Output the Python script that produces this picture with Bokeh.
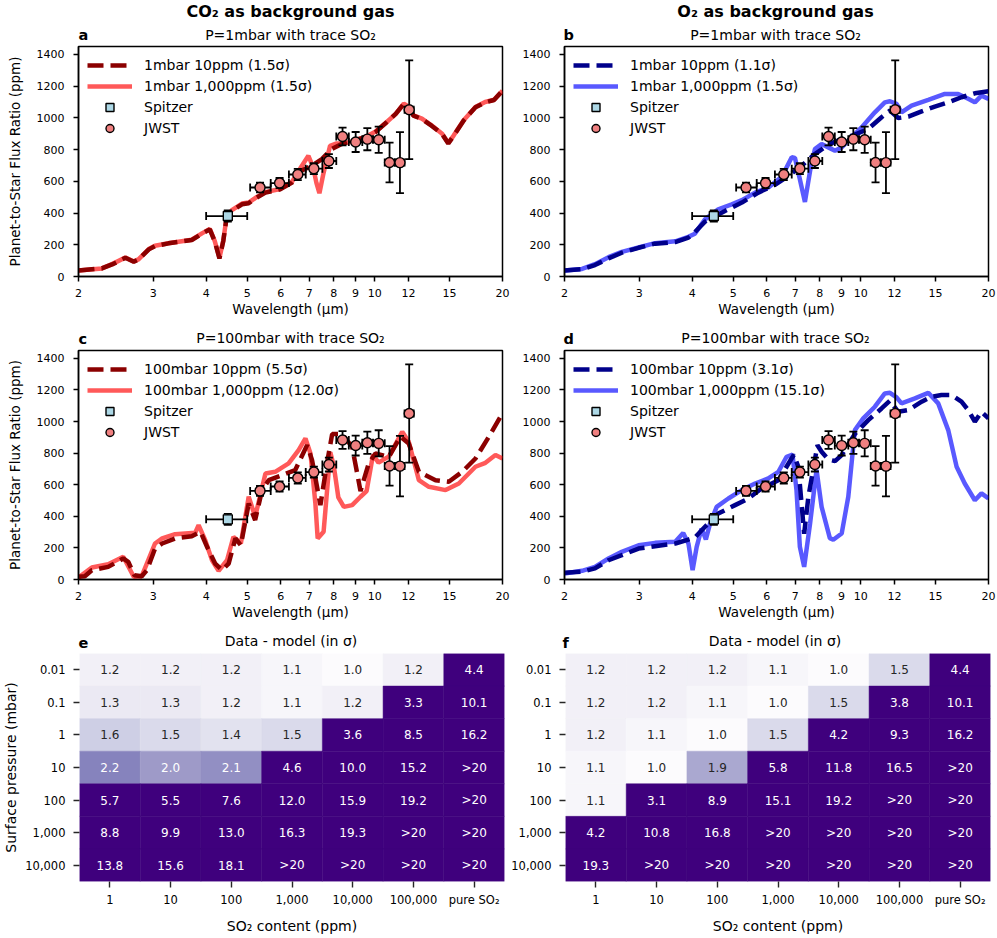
import numpy as np
from bokeh.core.properties import value
from bokeh.embed import file_html
from bokeh.layouts import column, row
from bokeh.models import (ColumnDataSource, CustomJSTickFormatter, FactorRange, FixedTicker,
                          Legend, LegendItem, LinearColorMapper, Range1d)
from bokeh.palettes import Purples9
from bokeh.plotting import figure
from bokeh.resources import INLINE

FONT = "DejaVu Sans"

# ---------------------------------------------------------------- axes
wl_ticks = [2, 3, 4, 5, 6, 7, 8, 9, 10, 12, 15, 20]
fp_ticks = [0, 200, 400, 600, 800, 1000, 1200, 1400]

# ---------------------------------------------------------------- observations
spitzer_wl = [4.5]
spitzer_fp = [381]
spitzer_err = [35]
spitzer_wl_lo = [4.0]
spitzer_wl_hi = [5.0]

jwst_wl = [5.36, 5.96, 6.58, 7.18, 7.79, 8.39, 9.01, 9.60, 10.21, 10.83, 11.46, 12.05]
jwst_fp = [561, 589, 643, 680, 728, 883, 848, 866, 862, 719, 718, 1051]
jwst_err = [31, 32, 35, 35, 44, 56, 63, 70, 83, 125, 192, 311]
jwst_wl_lo = [5.08, 5.68, 6.27, 6.87, 7.52, 8.11, 8.68, 9.34, 9.90, 10.55, 11.15, 11.75]
jwst_wl_hi = [5.68, 6.27, 6.87, 7.52, 8.11, 8.68, 9.34, 9.90, 10.55, 11.15, 11.75, 12.35]

# ---------------------------------------------------------------- models, CO2 background, 1 mbar
co2_1mbar_10ppm_wl = [2.0, 2.27, 2.40, 2.58, 2.70, 2.77, 2.93, 3.03, 3.26, 3.70, 3.91, 4.08, 4.19,
                      4.30, 4.39, 4.47, 4.60, 4.86, 5.04, 5.27, 5.52, 5.98, 6.38, 6.74, 7.1, 7.5,
                      7.9, 8.35, 8.83, 9.5, 10.02, 10.59, 11.2, 11.7, 12.0, 12.33, 12.91, 13.6,
                      14.41, 14.9, 15.35, 16.2, 17.27, 18.2, 19.1, 20.0]
co2_1mbar_10ppm_fp = [38, 51, 76, 118, 93, 107, 171, 192, 209, 230, 270, 297, 223,
                      114, 223, 371, 413, 455, 462, 498, 529, 550, 592, 670, 698, 740,
                      803, 835, 856, 877, 909, 966, 1025, 1088, 1071, 1014, 993, 951,
                      898, 839, 888, 983, 1067, 1098, 1113, 1172]
co2_1mbar_1000ppm_wl = [2.0, 2.27, 2.40, 2.58, 2.70, 2.77, 2.93, 3.03, 3.26, 3.70, 3.91, 4.08,
                        4.19, 4.30, 4.39, 4.47, 4.60, 4.86, 5.04, 5.27, 5.52, 5.98, 6.38, 6.7,
                        6.97, 7.15, 7.28, 7.40, 7.55, 7.84, 8.1, 8.4, 8.83, 9.2, 9.5, 10.02,
                        10.59, 11.2, 11.7, 12.0, 12.33, 12.91, 13.6, 14.41, 14.9, 15.35, 16.2,
                        17.27, 18.2, 19.1, 20.0]
co2_1mbar_1000ppm_fp = [38, 51, 78, 120, 95, 108, 173, 194, 210, 232, 272, 300,
                        225, 118, 225, 375, 418, 460, 466, 502, 532, 552, 598, 690,
                        761, 690, 590, 525, 640, 824, 838, 840, 850, 868, 880, 912,
                        966, 1025, 1090, 1072, 1016, 995, 953, 900, 842, 890, 985,
                        1068, 1100, 1114, 1170]

# ---------------------------------------------------------------- models, O2 background, 1 mbar
o2_1mbar_10ppm_wl = [2.0, 2.20, 2.36, 2.54, 2.73, 2.99, 3.27, 3.65, 3.92, 4.06, 4.29, 4.49, 4.78,
                     5.24, 5.73, 6.27, 6.75, 7.25, 7.79, 8.38, 9.01, 9.68, 10.41, 11.19, 11.71,
                     12.25, 12.94, 13.91, 14.94, 16.07, 17.27, 18.57, 20.0]
o2_1mbar_10ppm_fp = [38, 46, 72, 114, 150, 181, 207, 217, 245, 280, 346, 375, 413,
                     466, 529, 578, 635, 698, 772, 831, 867, 894, 930, 1004, 1046,
                     999, 1008, 1041, 1071, 1098, 1130, 1155, 1168]
o2_1mbar_1000ppm_wl = [2.0, 2.20, 2.36, 2.54, 2.73, 2.99, 3.27, 3.65, 3.92, 4.06, 4.29, 4.61,
                       4.96, 5.24, 5.63, 6.05, 6.51, 6.87, 6.99, 7.18, 7.38, 7.59, 7.79, 8.08,
                       8.38, 8.69, 9.01, 9.51, 10.04, 10.79, 11.39, 11.71, 12.14, 12.47, 13.17,
                       14.42, 15.78, 16.96, 17.91, 18.57, 19.25, 20.0]
o2_1mbar_1000ppm_fp = [38, 48, 78, 122, 155, 183, 210, 222, 250, 270, 360, 424,
                       455, 481, 529, 561, 628, 752, 748, 613, 470, 666, 803, 835,
                       814, 793, 814, 877, 940, 1035, 1098, 1105, 1088, 1035, 1077,
                       1113, 1151, 1151, 1120, 1098, 1140, 1120]

# ---------------------------------------------------------------- models, CO2 background, 100 mbar
co2_100mbar_10ppm_wl = [2.0, 2.07, 2.15, 2.35, 2.55, 2.62, 2.71, 2.82, 2.90, 3.03, 3.15, 3.38,
                        3.70, 3.88, 4.02, 4.20, 4.36, 4.52, 4.69, 4.83, 5.04, 5.22, 5.42, 5.62,
                        6.04, 6.49, 6.92, 7.11, 7.44, 7.71, 7.93, 8.37, 8.84, 9.25, 9.67, 10.03,
                        10.79, 11.49, 12.02, 12.70, 13.90, 14.94, 16.07, 17.27, 18.57, 20.0]
co2_100mbar_10ppm_fp = [17, 21, 59, 80, 133, 112, 27, 21, 59, 196, 228, 260,
                        274, 302, 207, 101, 59, 101, 260, 217, 481, 376, 566, 629,
                        661, 693, 851, 756, 471, 735, 921, 921, 840, 560, 735, 798,
                        777, 904, 861, 682, 629, 619, 682, 766, 904, 1052]
co2_100mbar_1000ppm_wl = [2.0, 2.15, 2.35, 2.55, 2.70, 2.82, 3.03, 3.15, 3.38, 3.77, 3.84, 3.98,
                          4.13, 4.28, 4.48, 4.64, 4.83, 5.04, 5.22, 5.52, 5.82, 6.26, 6.61,
                          6.86, 7.05, 7.24, 7.33, 7.57, 7.85, 8.0, 8.2, 8.45, 8.84, 9.25, 9.56,
                          9.9, 10.2, 10.8, 11.6, 12.02, 12.70, 13.41, 14.68, 15.78, 17.27,
                          18.23, 19.25, 20.0]
co2_100mbar_1000ppm_fp = [13, 76, 97, 144, 17, 21, 228, 260, 287, 296, 344, 249,
                          122, 55, 122, 270, 228, 524, 397, 671, 682, 735, 819,
                          893, 798, 481, 260, 302, 805, 720, 520, 460, 471, 524, 560,
                          790, 740, 780, 935, 872, 629, 587, 566, 608, 714,
                          739, 788, 766]

# ---------------------------------------------------------------- models, O2 background, 100 mbar
o2_100mbar_10ppm_wl = [2.0, 2.20, 2.36, 2.54, 2.73, 2.99, 3.27, 3.65, 3.92, 4.06, 4.29, 4.61,
                       5.05, 5.43, 5.83, 6.39, 6.95, 7.12, 7.35, 7.52, 7.90, 8.08, 8.38, 8.69,
                       9.01, 9.68, 10.41, 11.19, 11.71, 12.25, 12.94, 13.91, 14.67, 15.49,
                       16.37, 17.27, 17.91, 18.57, 19.25, 20.0]
o2_100mbar_10ppm_fp = [42, 49, 70, 122, 154, 196, 211, 228, 253, 266, 334, 418,
                       471, 513, 576, 629, 790, 714, 290, 524, 850, 809, 760, 750,
                       788, 921, 1009, 1083, 1132, 1062, 1073, 1126, 1157, 1168,
                       1168, 1126, 1073, 999, 1062, 1020]
o2_100mbar_1000ppm_wl = [2.0, 2.20, 2.36, 2.54, 2.73, 2.99, 3.27, 3.65, 3.81, 3.92, 4.01, 4.10,
                         4.21, 4.31, 4.41, 4.57, 4.87, 5.24, 5.63, 6.05, 6.39, 6.68, 6.90,
                         7.05, 7.18, 7.35, 7.59, 7.86, 8.08, 8.45, 8.61, 9.01, 9.34, 9.68,
                         10.13, 10.79, 11.39, 11.71, 12.14, 12.47, 13.41, 14.42, 15.22, 16.07,
                         16.82, 17.58, 18.57, 19.25, 20.0]
o2_100mbar_1000ppm_fp = [38, 55, 80, 133, 175, 217, 232, 239, 295, 228, 59, 207,
                         323, 253, 355, 460, 513, 566, 608, 640, 682, 777, 790,
                         566, 207, 80, 355, 695, 460, 262, 252, 291, 524, 946,
                         1020, 1094, 1178, 1182, 1153, 1115, 1147, 1182, 1115, 946,
                         714, 608, 502, 545, 513]

# ---------------------------------------------------------------- goodness-of-fit grids
so2_labels = ["1", "10", "100", "1,000", "10,000", "100,000", "pure SO\u2082"]
pressure_labels = ["0.01", "0.1", "1", "10", "100", "1,000", "10,000"]

co2_sigma = [
    ["1.2", "1.2", "1.2", "1.1", "1.0", "1.2", "4.4"],
    ["1.3", "1.3", "1.2", "1.1", "1.2", "3.3", "10.1"],
    ["1.6", "1.5", "1.4", "1.5", "3.6", "8.5", "16.2"],
    ["2.2", "2.0", "2.1", "4.6", "10.0", "15.2", ">20"],
    ["5.7", "5.5", "7.6", "12.0", "15.9", "19.2", ">20"],
    ["8.8", "9.9", "13.0", "16.3", "19.3", ">20", ">20"],
    ["13.8", "15.6", "18.1", ">20", ">20", ">20", ">20"],
]
o2_sigma = [
    ["1.2", "1.2", "1.2", "1.1", "1.0", "1.5", "4.4"],
    ["1.2", "1.2", "1.1", "1.0", "1.5", "3.8", "10.1"],
    ["1.2", "1.1", "1.0", "1.5", "4.2", "9.3", "16.2"],
    ["1.1", "1.0", "1.9", "5.8", "11.8", "16.5", ">20"],
    ["1.1", "3.1", "8.9", "15.1", "19.2", ">20", ">20"],
    ["4.2", "10.8", "16.8", ">20", ">20", ">20", ">20"],
    ["19.3", ">20", ">20", ">20", ">20", ">20", ">20"],
]

# ---------------------------------------------------------------- layout constants (pixels)
PAGE_W = 997
FRAME_W = 424
HM_FRAME_W = 425
LEFT_A, RIGHT_A = 78, 17          # left column spectra
LEFT_B, RIGHT_B = 44, 10          # right column spectra
LEFT_E, RIGHT_E = 78, 4           # left heatmap
LEFT_F, RIGHT_F = 55, 10          # right heatmap
X_COL1 = LEFT_A                               # frame left, left column
X_COL2 = LEFT_A + FRAME_W + RIGHT_A + LEFT_B  # frame left, right column
X_HM2 = LEFT_E + HM_FRAME_W + RIGHT_E + LEFT_F


def interp_palette_hex(colors, n):
    rgb = np.array([[int(c[i:i + 2], 16) for i in (1, 3, 5)] for c in colors], float)
    t = np.linspace(0, 1, len(colors))
    tt = np.linspace(0, 1, n)
    out = np.stack([np.interp(tt, t, rgb[:, k]) for k in range(3)], axis=1)
    return ["#%02x%02x%02x" % tuple(int(round(v)) for v in c) for c in out]


PURPLES = interp_palette_hex(list(reversed(Purples9)), 256)


def style_text_axes(p, tick_size="11px"):
    for ax in (p.xaxis[0], p.yaxis[0]):
        ax.major_label_text_font = FONT
        ax.major_label_text_font_size = tick_size
        ax.major_label_text_color = "black"
        ax.axis_label_text_font = FONT
        ax.axis_label_text_font_size = "13.5px"
        ax.axis_label_text_font_style = "normal"
        ax.axis_label_text_color = "black"


def caption_strip(height, headers=(), subtitles=(), letters=()):
    """A full-width band of column headers, panel subtitles and panel letters."""
    s = figure(width=PAGE_W, height=height, x_range=Range1d(0, PAGE_W),
               y_range=Range1d(height, 0), x_axis_location=None, y_axis_location=None,
               toolbar_location=None, output_backend="svg", min_border=0)
    s.outline_line_color = None
    s.grid.visible = False
    s.xgrid.grid_line_color = None
    s.ygrid.grid_line_color = None
    s.background_fill_color = "white"
    s.border_fill_color = "white"
    groups = ((headers, "16px", "bold", "center"),
              (subtitles, "14px", "normal", "center"),
              (letters, "14.5px", "bold", "left"))
    for items, size, style, align in groups:
        if not items:
            continue
        xs, ys, ts = zip(*items)
        s.text(x=list(xs), y=list(ys), text=list(ts), text_font=value(FONT),
               text_font_size=size, text_font_style=style, text_align=align,
               text_baseline="middle", text_color="black")
    return s


def add_points(p, wl, fp, err, lo, hi, marker, fill, size):
    src = ColumnDataSource(dict(x=wl, y=fp, x0=lo, x1=hi,
                                y0=[f - e for f, e in zip(fp, err)],
                                y1=[f + e for f, e in zip(fp, err)]))
    bar = dict(line_color="black", line_width=1.8, source=src)
    p.segment(x0="x", y0="y0", x1="x", y1="y1", **bar)
    p.segment(x0="x0", y0="y", x1="x1", y1="y", **bar)
    p.scatter(x="x", y="y0", marker="dash", size=8, **bar)
    p.scatter(x="x", y="y1", marker="dash", size=8, **bar)
    p.scatter(x="x0", y="y", marker="dash", angle=np.pi / 2, size=8, **bar)
    p.scatter(x="x1", y="y", marker="dash", angle=np.pi / 2, size=8, **bar)
    return p.scatter(x="x", y="y", marker=marker, size=size, fill_color=fill,
                     line_color="black", line_width=1.4, source=src)


def spectrum_panel(dash_wl, dash_fp, solid_wl, solid_fp, dash_label, solid_label,
                   dash_color, solid_color, y_label, b_left, b_right, b_bottom, frame_h):
    p = figure(frame_width=FRAME_W, frame_height=frame_h, x_axis_type="log",
               x_range=Range1d(2, 20), y_range=Range1d(0, 1450), title=None,
               toolbar_location=None, output_backend="svg",
               min_border_left=b_left, min_border_right=b_right,
               min_border_top=2, min_border_bottom=b_bottom)
    p.background_fill_color = "white"
    p.border_fill_color = "white"
    p.xgrid.visible = False
    p.ygrid.visible = False
    p.outline_line_color = "black"
    p.outline_line_width = 1.5
    p.outline_line_alpha = 1.0

    p.xaxis.ticker = FixedTicker(ticks=wl_ticks, minor_ticks=[])
    p.xaxis.formatter = CustomJSTickFormatter(code="return tick.toString()")
    p.yaxis.ticker = FixedTicker(ticks=fp_ticks, minor_ticks=[])
    for ax in (p.xaxis[0], p.yaxis[0]):
        ax.axis_line_color = "black"
        ax.axis_line_width = 1.5
        ax.major_tick_line_color = "black"
        ax.major_tick_line_width = 1.5
        ax.major_tick_out = 5
        ax.major_tick_in = 0
        ax.minor_tick_line_color = None
    p.xaxis.major_label_standoff = 7
    p.yaxis.major_label_standoff = 9
    p.xaxis.axis_label = "Wavelength (\u00b5m)"
    p.xaxis.axis_label_standoff = 1
    if y_label:
        p.yaxis.axis_label = y_label
        p.yaxis.axis_label_standoff = 11
    style_text_axes(p)

    r_solid = p.line(solid_wl, solid_fp, line_color=solid_color, line_alpha=0.65, line_width=4.5)
    r_dash = p.line(dash_wl, dash_fp, line_color=dash_color, line_width=4.5, line_dash="16 7")

    r_sp = add_points(p, spitzer_wl, spitzer_fp, spitzer_err, spitzer_wl_lo, spitzer_wl_hi,
                      "square", "#add8e6", 9)
    r_jw = add_points(p, jwst_wl, jwst_fp, jwst_err, jwst_wl_lo, jwst_wl_hi,
                      "circle", "#f08080", 10)

    legend = Legend(items=[LegendItem(label=dash_label, renderers=[r_dash]),
                           LegendItem(label=solid_label, renderers=[r_solid]),
                           LegendItem(label="Spitzer", renderers=[r_sp]),
                           LegendItem(label="JWST", renderers=[r_jw])],
                    location="top_left", border_line_color=None, background_fill_alpha=0,
                    label_text_font=FONT, label_text_font_size="14px", label_text_color="black",
                    glyph_width=45, glyph_height=20, label_height=20, spacing=1,
                    label_standoff=12, padding=0, margin=9)
    p.add_layout(legend)
    return p


def heatmap_panel(grid, y_label, b_left, b_right, b_bottom, frame_h):
    xs, ys, vals, labels, tcolors = [], [], [], [], []
    for i, prow in enumerate(pressure_labels):
        for j, scol in enumerate(so2_labels):
            s = grid[i][j]
            v = 20.0 if s.startswith(">") else float(s)
            xs.append(scol)
            ys.append(prow)
            vals.append(v)
            labels.append(s)
            tcolors.append("white" if v >= 1.95 else "#262626")
    src = ColumnDataSource(dict(x=xs, y=ys, v=vals, label=labels, tc=tcolors))
    mapper = LinearColorMapper(palette=PURPLES, low=1.0, high=3.0)

    p = figure(frame_width=HM_FRAME_W, frame_height=frame_h,
               x_range=FactorRange(*so2_labels),
               y_range=FactorRange(*reversed(pressure_labels)),
               title=None, toolbar_location=None, output_backend="svg",
               min_border_left=b_left, min_border_right=b_right,
               min_border_top=1, min_border_bottom=b_bottom)
    p.outline_line_color = None
    p.xgrid.visible = False
    p.ygrid.visible = False
    p.rect(x="x", y="y", width=1, height=1, source=src,
           fill_color={"field": "v", "transform": mapper},
           line_color={"field": "v", "transform": mapper}, line_width=0.5)
    p.text(x="x", y="y", text="label", text_color="tc", source=src,
           text_align="center", text_baseline="middle",
           text_font=value(FONT), text_font_size="12px")

    for ax in (p.xaxis[0], p.yaxis[0]):
        ax.axis_line_color = None
        ax.major_tick_line_color = "#262626"
        ax.major_tick_line_width = 1.4
        ax.major_tick_out = 6
        ax.major_tick_in = 0
        ax.minor_tick_line_color = None
    p.xaxis.major_label_standoff = 5
    p.yaxis.major_label_standoff = 8
    p.xaxis.axis_label = "SO\u2082 content (ppm)"
    p.xaxis.axis_label_standoff = 8
    if y_label:
        p.yaxis.axis_label = y_label
        p.yaxis.axis_label_standoff = 3
    style_text_axes(p, tick_size="11.5px")
    p.xaxis.axis_label_text_font_size = "14px"
    p.yaxis.axis_label_text_font_size = "14px"
    return p


YLAB = "Planet-to-Star Flux Ratio (ppm)"
SUB_1 = "P=1mbar with trace SO\u2082"
SUB_100 = "P=100mbar with trace SO\u2082"
HM_TITLE = "Data - model (in \u03c3)"

c1 = X_COL1 + FRAME_W / 2
c2 = X_COL2 + FRAME_W / 2
h1 = LEFT_E + HM_FRAME_W / 2
h2 = X_HM2 + HM_FRAME_W / 2

strip_top = caption_strip(
    44,
    headers=[(c1, 11, "CO\u2082 as background gas"), (c2, 11, "O\u2082 as background gas")],
    subtitles=[(c1, 34.5, SUB_1), (c2, 34.5, SUB_1)],
    letters=[(X_COL1, 34, "a"), (X_COL2, 34, "b")])
strip_mid = caption_strip(
    28,
    subtitles=[(c1, 17.5, SUB_100), (c2, 17.5, SUB_100)],
    letters=[(X_COL1, 18, "c"), (X_COL2, 18, "d")])
strip_low = caption_strip(
    29,
    subtitles=[(h1, 17, HM_TITLE), (h2, 17, HM_TITLE)],
    letters=[(LEFT_E, 19, "e"), (X_HM2, 19, "f")])

pa = spectrum_panel(co2_1mbar_10ppm_wl, co2_1mbar_10ppm_fp,
                    co2_1mbar_1000ppm_wl, co2_1mbar_1000ppm_fp,
                    "1mbar 10ppm (1.5\u03c3)", "1mbar 1,000ppm (1.5\u03c3)",
                    "#8b0000", "#ff0000", YLAB, LEFT_A, RIGHT_A, 44, 230)
pb = spectrum_panel(o2_1mbar_10ppm_wl, o2_1mbar_10ppm_fp,
                    o2_1mbar_1000ppm_wl, o2_1mbar_1000ppm_fp,
                    "1mbar 10ppm (1.1\u03c3)", "1mbar 1,000ppm (1.5\u03c3)",
                    "#00008b", "#0000ff", None, LEFT_B, RIGHT_B, 44, 230)
pc = spectrum_panel(co2_100mbar_10ppm_wl, co2_100mbar_10ppm_fp,
                    co2_100mbar_1000ppm_wl, co2_100mbar_1000ppm_fp,
                    "100mbar 10ppm (5.5\u03c3)", "100mbar 1,000ppm (12.0\u03c3)",
                    "#8b0000", "#ff0000", YLAB, LEFT_A, RIGHT_A, 44, 229)
pd_ = spectrum_panel(o2_100mbar_10ppm_wl, o2_100mbar_10ppm_fp,
                     o2_100mbar_1000ppm_wl, o2_100mbar_1000ppm_fp,
                     "100mbar 10ppm (3.1\u03c3)", "100mbar 1,000ppm (15.1\u03c3)",
                     "#00008b", "#0000ff", None, LEFT_B, RIGHT_B, 44, 229)
pe = heatmap_panel(co2_sigma, "Surface pressure (mbar)", LEFT_E, RIGHT_E, 58, 228)
pf = heatmap_panel(o2_sigma, None, LEFT_F, RIGHT_F, 58, 228)

layout = column(strip_top, row(pa, pb), strip_mid, row(pc, pd_), strip_low, row(pe, pf))

with open("out.html", "w") as fh:
    fh.write(file_html(layout, INLINE))
